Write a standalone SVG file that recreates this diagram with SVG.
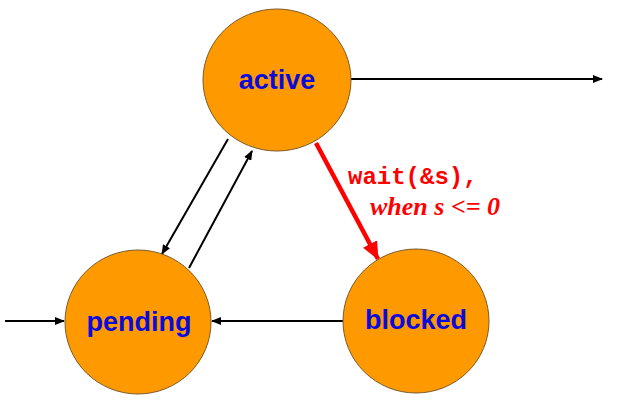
<svg xmlns="http://www.w3.org/2000/svg" width="626" height="415" viewBox="0 0 626 415">
<style>
.node{fill:#FF9900;stroke:#7a5a2a;stroke-width:1}
.lbl{font-family:"Liberation Sans",Arial,sans-serif;font-weight:bold;font-size:27px;fill:#0A0ADC;text-anchor:middle}
.edge{stroke:#000;stroke-width:2;fill:none;marker-end:url(#ah)}
.red{stroke:#FF0000;stroke-width:4.5;fill:none;marker-end:url(#rh)}
</style>
<defs>
<marker id="ah" markerWidth="10" markerHeight="8" refX="9" refY="4" orient="auto" markerUnits="userSpaceOnUse"><path d="M0,0 L10,4 L0,8 z" fill="#000"/></marker>
<marker id="rh" markerWidth="18" markerHeight="16" refX="17" refY="8" orient="auto" markerUnits="userSpaceOnUse"><path d="M0,0 L18,8 L0,16 z" fill="#FF0000"/></marker>
</defs>
<rect width="626" height="415" fill="#fff"/>
<g id="edges">
<line class="edge" x1="351" y1="79" x2="602" y2="79"/>
<line class="edge" x1="5" y1="321" x2="64" y2="321"/>
<line class="edge" x1="343" y1="321" x2="212" y2="321"/>
<line class="edge" x1="228" y1="139" x2="162" y2="254"/>
<line class="edge" x1="189" y1="268" x2="252" y2="151"/>
<line class="red" x1="316" y1="143" x2="378" y2="259"/>
<text x="348" y="184" font-family="'Liberation Mono','Courier New',monospace" font-weight="bold" font-size="24" fill="#FF0000">wait(&amp;s),</text>
<text x="370" y="215" font-family="'Liberation Serif','Times New Roman',serif" font-weight="bold" font-style="italic" font-size="26" fill="#FF0000">when s &lt;= 0</text>
</g>
<g id="active">
<ellipse class="node" cx="277" cy="80" rx="74" ry="71"/>
<text class="lbl" x="277" y="89">active</text>
</g>
<g id="pending">
<ellipse class="node" cx="138" cy="322" rx="73" ry="72"/>
<text class="lbl" x="139" y="331">pending</text>
</g>
<g id="blocked">
<ellipse class="node" cx="416" cy="321" rx="73" ry="72"/>
<text class="lbl" x="416" y="329">blocked</text>
</g>
</svg>
